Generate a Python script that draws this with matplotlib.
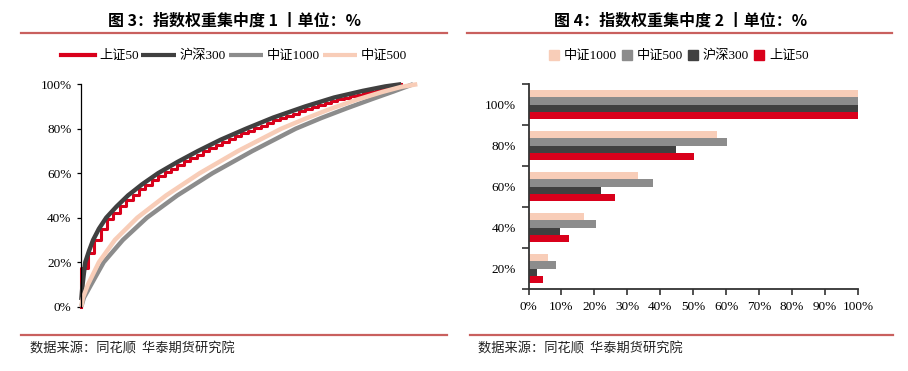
import matplotlib
matplotlib.use('Agg')
import matplotlib.pyplot as plt
from matplotlib.lines import Line2D
from matplotlib.patches import Patch

# ---------------- data ----------------
# Left chart: cumulative weight vs. share of constituents
sz50_cum = [0.172, 0.240, 0.300, 0.350, 0.392, 0.422, 0.452, 0.480, 0.504, 0.527,
            0.548, 0.568, 0.588, 0.605, 0.621, 0.638, 0.653, 0.669, 0.684, 0.699,
            0.713, 0.727, 0.741, 0.754, 0.766, 0.779, 0.791, 0.803, 0.814, 0.826,
            0.838, 0.848, 0.858, 0.868, 0.878, 0.888, 0.897, 0.906, 0.915, 0.924,
            0.932, 0.939, 0.946, 0.953, 0.960, 0.967, 0.974, 0.981, 0.987, 0.993]

hs300_x = [0, 0.004, 0.008, 0.0125, 0.024, 0.037, 0.055, 0.078, 0.11, 0.146, 0.19,
           0.24, 0.30, 0.365, 0.435, 0.515, 0.60, 0.70, 0.79, 0.88, 0.95, 1.0]
hs300_y = [0.03, 0.10, 0.15, 0.20, 0.25, 0.30, 0.35, 0.40, 0.45, 0.50, 0.55,
           0.60, 0.65, 0.70, 0.75, 0.80, 0.85, 0.90, 0.94, 0.97, 0.99, 1.0]

zz1000_x = [0, 0.008, 0.031, 0.07, 0.13, 0.205, 0.30, 0.41, 0.535, 0.67, 0.75,
            0.83, 0.91, 0.975, 1.037]
zz1000_y = [0, 0.04, 0.10, 0.20, 0.30, 0.40, 0.50, 0.60, 0.70, 0.80, 0.848,
            0.892, 0.934, 0.967, 1.0]

zz500_x = [0, 0.005, 0.021, 0.055, 0.105, 0.175, 0.265, 0.37, 0.49, 0.625, 0.70,
           0.78, 0.86, 0.94, 1.0, 1.05]
zz500_y = [0, 0.04, 0.10, 0.20, 0.30, 0.40, 0.50, 0.60, 0.70, 0.80, 0.845,
           0.89, 0.93, 0.965, 0.988, 1.0]

# Right chart: share of constituents needed to reach each weight level (%)
levels = ['20%', '40%', '60%', '80%', '100%']
bar_zz1000 = [5.9, 16.7, 33.3, 57.1, 100]
bar_zz500 = [8.3, 20.5, 37.9, 60.3, 100]
bar_hs300 = [2.7, 9.7, 22.0, 44.7, 100]
bar_sz50 = [4.4, 12.4, 26.4, 50.3, 100]
x_ticks = list(range(0, 101, 10))

# ---------------- style ----------------
RED = '#D9001B'
DARK = '#404040'
GRAY = '#8C8C8C'
PINK = '#F8CDB8'
RULE = '#C9605E'
SERIF = ['Liberation Serif', 'Noto Sans CJK SC']
SANS = ['Noto Sans CJK SC', 'DejaVu Sans']

W, H = 908, 371
fig = plt.figure(figsize=(W / 100, H / 100), dpi=100)


def ax_px(x0, y0, x1, y1):
    return fig.add_axes([x0 / W, 1 - y1 / H, (x1 - x0) / W, (y1 - y0) / H])


def hline(x0, x1, y):
    fig.add_artist(Line2D([x0 / W, x1 / W], [1 - y / H, 1 - y / H],
                          transform=fig.transFigure, color=RULE, lw=1.6))


# titles and rules
fig.text(234 / W, 1 - 21 / H, '图 3：指数权重集中度 1 丨单位：%', ha='center', va='center',
         family=SANS, fontsize=11.5, fontweight='bold', color='black')
fig.text(681 / W, 1 - 21 / H, '图 4：指数权重集中度 2 丨单位：%', ha='center', va='center',
         family=SANS, fontsize=11.5, fontweight='bold', color='black')
hline(21, 447, 33)
hline(467, 892, 33)
hline(21, 447, 335)
hline(470, 893, 335)
fig.text(30 / W, 1 - 349 / H, '数据来源：同花顺  华泰期货研究院', ha='left', va='center',
         family=SANS, fontsize=9.5, color='#222222')
fig.text(478 / W, 1 - 349 / H, '数据来源：同花顺  华泰期货研究院', ha='left', va='center',
         family=SANS, fontsize=9.5, color='#222222')

# ---------------- left chart ----------------
ax1 = ax_px(81.3, 84.2, 433.3, 306.7)
n = len(sz50_cum)
sx = [0] + [i / n for i in range(n)] + [1.0]
sy = [0] + sz50_cum + [1.0]
l1, = ax1.plot(sx, sy, drawstyle='steps-post', color=RED, lw=2.2, clip_on=False)
l2, = ax1.plot(hs300_x, hs300_y, color=DARK, lw=3.2, clip_on=False,
               solid_capstyle='butt', solid_joinstyle='round')
l3, = ax1.plot(zz1000_x, zz1000_y, color=GRAY, lw=3.2, clip_on=False,
               solid_capstyle='butt', solid_joinstyle='round')
l4, = ax1.plot(zz500_x, zz500_y, color=PINK, lw=3.2, clip_on=False,
               solid_capstyle='butt', solid_joinstyle='round')
ax1.set_xlim(0, 1.1)
ax1.set_ylim(0, 1)
for s in ['top', 'right', 'bottom']:
    ax1.spines[s].set_visible(False)
ax1.spines['left'].set_linewidth(0.9)
ax1.set_xticks([])
ax1.set_yticks([0, 0.2, 0.4, 0.6, 0.8, 1.0])
ax1.set_yticklabels(['0%', '20%', '40%', '60%', '80%', '100%'])
ax1.tick_params(axis='y', direction='out', length=3, width=0.9, pad=4, labelsize=9.5)
for t in ax1.get_yticklabels():
    t.set_family(SERIF)

leg1 = fig.legend([l1, l2, l3, l4], ['上证50', '沪深300', '中证1000', '中证500'],
                  loc='center', bbox_to_anchor=(234 / W, 1 - 56 / H), ncol=4,
                  frameon=False, prop={'family': SERIF, 'size': 9.5},
                  handlelength=2.6, handletextpad=0.3, columnspacing=0.2)
for h in leg1.get_lines():
    h.set_linewidth(3)

# ---------------- right chart ----------------
ax2 = ax_px(528.5, 84, 858, 289)
h = 0.18
ypos = list(range(len(levels)))
ax2.barh([y + 1.5 * h for y in ypos], bar_zz1000, height=h, color=PINK, label='中证1000')
ax2.barh([y + 0.5 * h for y in ypos], bar_zz500, height=h, color=GRAY, label='中证500')
ax2.barh([y - 0.5 * h for y in ypos], bar_hs300, height=h, color=DARK, label='沪深300')
ax2.barh([y - 1.5 * h for y in ypos], bar_sz50, height=h, color=RED, label='上证50')
ax2.set_xlim(0, 100)
ax2.set_ylim(-0.5, len(levels) - 0.5)
for s in ['top', 'right']:
    ax2.spines[s].set_visible(False)
for s in ['left', 'bottom']:
    ax2.spines[s].set_linewidth(1.3)
    ax2.spines[s].set_color('#333333')
ax2.set_yticks(ypos)
ax2.set_yticklabels(levels)
ax2.set_yticks([y - 0.5 for y in range(len(levels) + 1)], minor=True)
ax2.tick_params(axis='y', which='major', length=0, pad=9, labelsize=9.5)
ax2.tick_params(axis='y', which='minor', length=5, width=1.2, color='#333333', direction='out')
ax2.set_xticks(x_ticks)
ax2.set_xticklabels([f'{v}%' for v in x_ticks])
ax2.tick_params(axis='x', length=4, width=1.2, color='#333333', pad=5, labelsize=9.5)
for t in ax2.get_yticklabels() + ax2.get_xticklabels():
    t.set_family(SERIF)

handles = [Patch(color=PINK), Patch(color=GRAY), Patch(color=DARK), Patch(color=RED)]
fig.legend(handles, ['中证1000', '中证500', '沪深300', '上证50'],
           loc='center', bbox_to_anchor=(679 / W, 1 - 56 / H), ncol=4,
           frameon=False, prop={'family': SERIF, 'size': 9.5},
           handlelength=0.75, handleheight=0.75, handletextpad=0.35, columnspacing=0.4)

fig.savefig('out.png', dpi=100)
